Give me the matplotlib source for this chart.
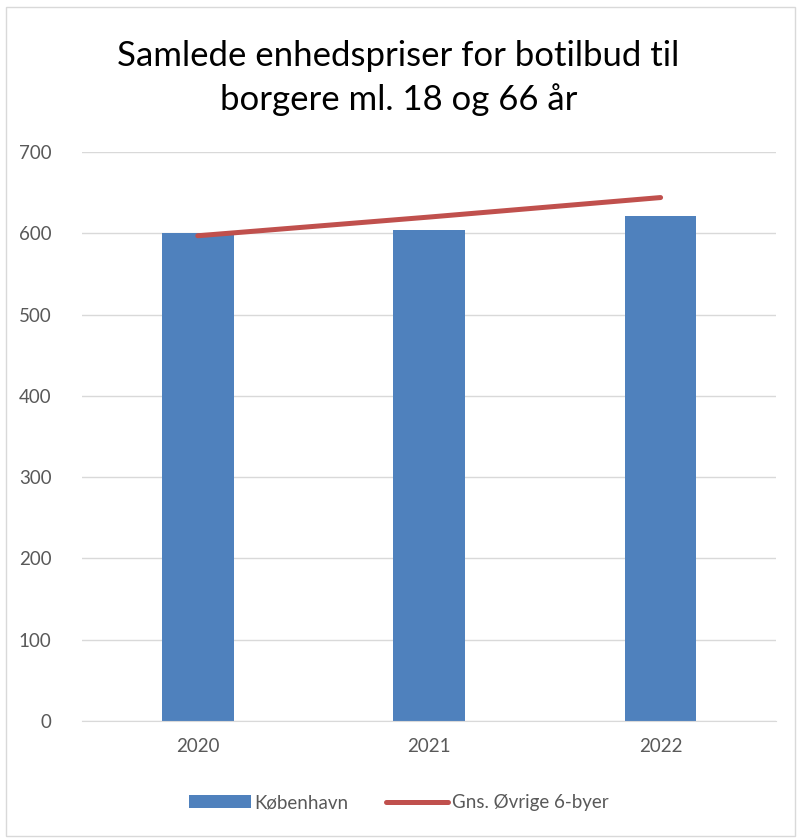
import matplotlib.pyplot as plt
from matplotlib.patches import Rectangle

# 数据
years = ['2020', '2021', '2022']
koebenhavn = [601, 604, 621]
oevrige = [597, 620, 644]

plt.rcParams['font.family'] = ['Lato', 'DejaVu Sans']

fig = plt.figure(figsize=(7.97, 8.39), dpi=100)
ax = fig.add_axes([0.103, 0.1406, 0.871, 0.6782])

x = range(len(years))
bars = ax.bar(x, koebenhavn, width=0.31, color='#4F81BD', label='København', zorder=2)
line, = ax.plot(x, oevrige, color='#C0504D', linewidth=3.6, solid_capstyle='round',
                label='Gns. Øvrige 6-byer', zorder=3)

ax.set_xlim(-0.5, 2.5)
ax.set_ylim(0, 700)
ax.set_yticks(range(0, 701, 100))
ax.set_xticks(list(x))
ax.set_xticklabels(years)
ax.tick_params(length=0, labelsize=13.5, labelcolor='#595959')
ax.tick_params(axis='y', pad=22)
ax.tick_params(axis='x', pad=12)
ax.grid(axis='y', color='#D9D9D9', linewidth=1, zorder=0)
for s in ['top', 'right', 'left']:
    ax.spines[s].set_visible(False)
ax.spines['bottom'].set_color('#D9D9D9')

fig.text(0.5, 0.907, 'Samlede enhedspriser for botilbud til\nborgere ml. 18 og 66 år',
         ha='center', va='center', fontsize=25, linespacing=1.4, color='black')

fig.legend([bars, line], ['København', 'Gns. Øvrige 6-byer'],
           loc='center', bbox_to_anchor=(0.5, 0.043), ncol=2, frameon=False,
           fontsize=13.5, labelcolor='#595959', handlelength=3.3, handletextpad=0.2,
           columnspacing=2.0)

# 外框
fig.add_artist(Rectangle((0.007, 0.004), 0.99, 0.988, transform=fig.transFigure,
                         fill=False, edgecolor='#D9D9D9', linewidth=1))

fig.savefig('out.png', dpi=100)
